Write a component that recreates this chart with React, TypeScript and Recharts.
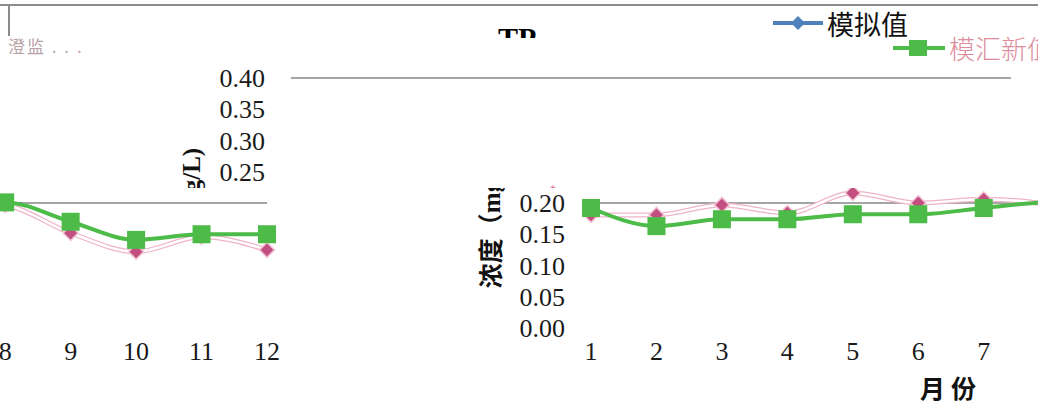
import { LineChart, Line, XAxis, YAxis, ReferenceLine } from "recharts";

// 月份 1–12
const months = ["1", "2", "3", "4", "5", "6", "7", "8", "9", "10", "11", "12"];
// 模拟值 (pink diamonds)
const simulated = [0.181, 0.181, 0.197, 0.184, 0.216, 0.2, 0.206, 0.197, 0.152, 0.122, 0.146, 0.125];
// second series (green squares)
const measured = [0.192, 0.163, 0.174, 0.174, 0.182, 0.182, 0.192, 0.201, 0.17, 0.141, 0.15, 0.15];
const yTicks = [0, 0.05, 0.1, 0.15, 0.2, 0.25, 0.3, 0.35, 0.4];
const gridValues = [0.2, 0.4];
const seriesNames = ["模拟值", "模汇新值"];

const data = months.map((m, i) => ({ month: m, sim: simulated[i], obs: measured[i] }));

const SERIF = "'Liberation Serif', 'Times New Roman', 'Noto Sans CJK SC', serif";
const CJK = "'Noto Sans CJK SC', sans-serif";
const PINK = "#c24e82";
const GREEN = "#4cbb47";
const BLUE = "#4f81bd";

function Diamond(p: any) {
  const { cx, cy } = p;
  if (cx == null || cy == null) return null;
  const r = 7.5;
  return (
    <polygon
      key={p.index}
      points={`${cx},${cy - r} ${cx + r},${cy} ${cx},${cy + r} ${cx - r},${cy}`}
      fill={PINK}
      stroke="#f4c3d4"
      strokeWidth={1.5}
    />
  );
}

function Square(p: any) {
  const { cx, cy } = p;
  if (cx == null || cy == null) return null;
  return <rect key={p.index} x={cx - 9} y={cy - 9} width={18} height={18} fill={GREEN} />;
}

function YLabel(props: any) {
  const vb = props.viewBox;
  const x = vb.x;
  const y = vb.y + vb.height / 2 + 15;
  return (
    <text
      x={x}
      y={y}
      transform={`rotate(-90 ${x} ${y})`}
      textAnchor="middle"
      dominantBaseline="central"
      fontFamily={SERIF}
      fontWeight="bold"
      fontSize={25}
      fill="#111"
    >
      浓度（mg/L)
    </text>
  );
}

// the whole chart, drawn in its own frame; App slices it up like the source picture
function TPChart() {
  return (
    <LineChart width={1400} height={406} data={data} margin={{ top: 78, right: 89, bottom: 0, left: 491 }}>
      <XAxis
        dataKey="month"
        height={78}
        interval={0}
        axisLine={false}
        tickLine={false}
        tickSize={0}
        tickMargin={14}
        tick={{ fill: "#1a1a1a", fontSize: 26, fontFamily: SERIF }}
        label={{
          value: "月份",
          position: "insideBottom",
          offset: 8,
          fill: "#111",
          fontSize: 25,
          fontWeight: "bold",
          fontFamily: SERIF,
          letterSpacing: 6,
        }}
      />
      <YAxis
        width={100}
        domain={[0, 0.4]}
        ticks={yTicks}
        interval={0}
        axisLine={false}
        tickLine={false}
        tickSize={0}
        tickMargin={26}
        tickFormatter={(v: number) => v.toFixed(2)}
        tick={{ fill: "#1a1a1a", fontSize: 26, fontFamily: SERIF }}
        label={{ content: YLabel }}
      />
      {gridValues.map((v) => (
        <ReferenceLine key={v} y={v} stroke="#878787" strokeWidth={1.5} />
      ))}
      <Line type="monotone" dataKey="sim" stroke="#efb3c7" strokeWidth={5} dot={false} isAnimationActive={false} />
      <Line type="monotone" dataKey="sim" stroke="#fff" strokeWidth={2.5} dot={Diamond} activeDot={false} isAnimationActive={false} />
      <Line type="monotone" dataKey="obs" stroke={GREEN} strokeWidth={4} dot={Square} activeDot={false} isAnimationActive={false} />
    </LineChart>
  );
}

export default function App() {
  return (
    <div style={{ position: "fixed", left: 0, top: 0, width: 1038, height: 406, overflow: "hidden", background: "#fff" }}>
      <style>{"body{margin:0}"}</style>

      {/* lower strip, wrapped around horizontally */}
      <div style={{ position: "absolute", left: 0, top: 188, width: 1038, height: 218, overflow: "hidden" }}>
        <div style={{ position: "absolute", left: 0, top: -188 }}>
          <TPChart />
        </div>
        <div style={{ position: "absolute", left: -1044, top: -188 }}>
          <TPChart />
        </div>
      </div>

      {/* upper strip, shifted left */}
      <div style={{ position: "absolute", left: 0, top: 0, width: 1038, height: 188, overflow: "hidden" }}>
        <div style={{ position: "absolute", left: -300, top: 0 }}>
          <TPChart />
        </div>
      </div>

      {/* chart area border remnants */}
      <div style={{ position: "absolute", left: 0, top: 4, width: 1038, height: 2, background: "#8c8c8c" }} />
      <div style={{ position: "absolute", left: 8, top: 4, width: 2, height: 32, background: "#8c8c8c" }} />

      {/* title, cut off */}
      <div style={{ position: "absolute", left: 0, top: 0, width: 1038, height: 38, overflow: "hidden" }}>
        <div style={{ position: "absolute", left: 498, top: 23, fontFamily: SERIF, fontWeight: "bold", fontSize: 30, color: "#000", lineHeight: 1 }}>
          TP
        </div>
      </div>

      {/* faint broken text at top left */}
      <div style={{ position: "absolute", left: 8, top: 37, fontFamily: CJK, fontSize: 17, color: "#b7a2a8", lineHeight: 1, letterSpacing: 2 }}>
        澄监 . . .
      </div>

      {/* legend */}
      <div style={{ position: "absolute", left: 773, top: 8, height: 30, display: "flex", alignItems: "center" }}>
        <svg width={52} height={30}>
          <line x1={0} y1={15} x2={50} y2={15} stroke={BLUE} strokeWidth={4} />
          <polygon points="25,8 32,15 25,22 18,15" fill={BLUE} />
        </svg>
        <span style={{ fontFamily: CJK, fontSize: 27, color: "#111", lineHeight: 1, marginLeft: 2 }}>{seriesNames[0]}</span>
      </div>
      <div style={{ position: "absolute", left: 893, top: 36, height: 24, display: "flex", alignItems: "center", whiteSpace: "nowrap" }}>
        <svg width={54} height={24}>
          <line x1={0} y1={12} x2={52} y2={12} stroke={GREEN} strokeWidth={4} />
          <rect x={16} y={4} width={18} height={16} fill={GREEN} />
        </svg>
        <span style={{ fontFamily: CJK, fontSize: 26, color: "#dc8d9b", lineHeight: 1, marginLeft: 2, fontWeight: 300 }}>
          {seriesNames[1]}
        </span>
      </div>
    </div>
  );
}
